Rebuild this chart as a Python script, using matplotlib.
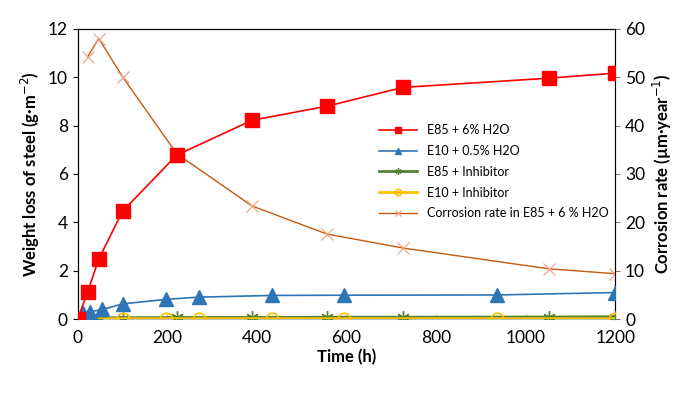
import matplotlib
matplotlib.use("Agg")
from matplotlib import pyplot as plt

plt.rcParams['font.family'] = ['Lato', 'DejaVu Sans']

# weight loss data (g/m2)
t_e85 = [0, 22, 47, 100, 221, 389, 556, 726, 1052, 1200]
w_e85 = [0, 1.12, 2.48, 4.46, 6.78, 8.22, 8.8, 9.58, 9.96, 10.17]

t_e10 = [0, 11, 27, 55, 100, 198, 270, 433, 594, 936, 1200]
w_e10 = [0, 0.25, 0.3, 0.4, 0.63, 0.82, 0.91, 0.98, 0.99, 1.0, 1.1]

t_e85i = [0, 22, 47, 100, 221, 389, 556, 726, 1052, 1200]
w_e85i = [0, 0.04, 0.05, 0.06, 0.07, 0.07, 0.08, 0.08, 0.09, 0.1]

t_e10i = [0, 11, 27, 55, 100, 198, 270, 433, 594, 936, 1200]
w_e10i = [0, 0.01, 0.01, 0.01, 0.02, 0.02, 0.02, 0.02, 0.02, 0.02, 0.02]

# corrosion rate (um/year)
t_cr = [22, 47, 100, 221, 389, 556, 726, 1052, 1200]
cr = [54.2, 58.0, 50.1, 34.2, 23.4, 17.6, 14.7, 10.4, 9.4]

fig = plt.figure(figsize=(7, 3.95), dpi=100)
ax = fig.add_axes([0.111, 0.192, 0.768, 0.735])
ax2 = ax.twinx()

l1, = ax.plot(t_e85, w_e85, '-', color='#ff0000', lw=1.2, marker='s', ms=10,
              mfc='#ff0000', mec='#ff0000', label='E85 + 6% H2O', zorder=5)
l2, = ax.plot(t_e10, w_e10, '-', color='#2e75b6', lw=1.2, marker='^', ms=10,
              mfc='#2e75b6', mec='#2e75b6', label='E10 + 0.5% H2O', zorder=4)
l3, = ax.plot(t_e85i, w_e85i, '-', color='#548235', lw=2, marker=(6, 2, 0), ms=9,
              mec='#548235', mew=1, label='E85 + Inhibitor', zorder=3)
l4, = ax.plot(t_e10i, w_e10i, '-', color='#ffc000', lw=2, marker='o', ms=9,
              mfc='none', mec='#ffc000', mew=1.2, label='E10 + Inhibitor', zorder=3)
l5, = ax2.plot(t_cr, cr, '-', color='#c55a11', lw=1, marker='x', ms=9,
               mec='#f0a58a', mew=0.9, label='Corrosion rate in E85 + 6 % H2O')

ax.set_xlim(0, 1200)
ax.set_ylim(0, 12)
ax2.set_ylim(0, 60)
ax.set_xticks([0, 200, 400, 600, 800, 1000, 1200])
ax.set_yticks([0, 2, 4, 6, 8, 10, 12])
ax2.set_yticks([0, 10, 20, 30, 40, 50, 60])

ax.tick_params(axis='x', direction='in', color='#bfbfbf', labelsize=12.5, pad=8)
ax.tick_params(axis='y', direction='out', labelsize=12.5)
ax2.tick_params(axis='y', direction='out', color='#7f7f7f', labelsize=12.5)

ax.spines['bottom'].set_color('#bfbfbf')
ax2.spines['bottom'].set_visible(False)
ax2.spines['right'].set_color('#404040')

ax.set_xlabel('Time (h)', fontsize=12, fontweight='bold', labelpad=2)
ax.set_ylabel('Weight loss of steel (g·m$^{-2}$)', fontsize=12, fontweight='bold')
ax2.set_ylabel('Corrosion rate (µm·year$^{-1}$)', fontsize=12, fontweight='bold')

ax.set_zorder(ax2.get_zorder() + 1)
ax.patch.set_visible(False)

leg = ax.legend(handles=[l1, l2, l3, l4, l5], loc='upper left',
                bbox_to_anchor=(0.54, 0.71), frameon=False, fontsize=9,
                markerscale=0.5, handlelength=3, labelspacing=0.7)

fig.savefig('out.png', dpi=100)
